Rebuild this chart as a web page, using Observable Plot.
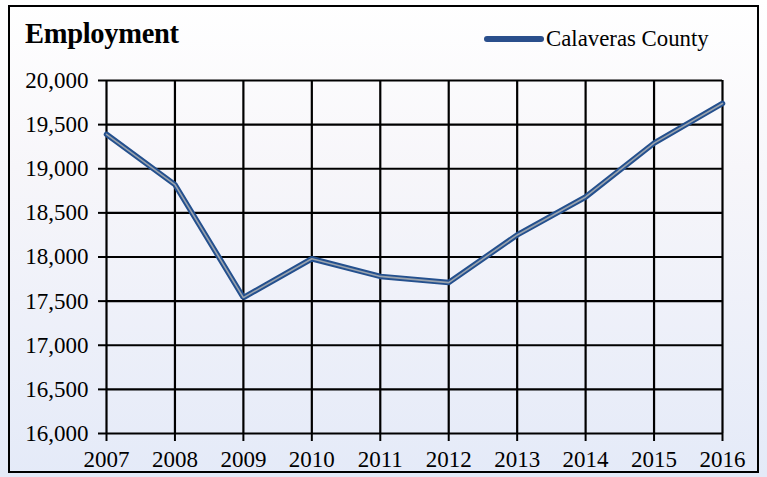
<!DOCTYPE html>
<html><head><meta charset="utf-8">
<script src="https://cdn.jsdelivr.net/npm/d3@7"></script>
<script src="https://cdn.jsdelivr.net/npm/@observablehq/plot@0.6"></script>
<style>
body{margin:0;background:#fff;}
#wrap{position:relative;width:767px;height:477px;overflow:hidden;font-family:"Liberation Serif","Times New Roman",serif;}
#frame{position:absolute;left:8px;top:5px;width:747px;height:464px;border:2px solid #000;pointer-events:none;}
#title{position:absolute;left:25px;top:18px;font-size:28.5px;font-weight:bold;color:#000;letter-spacing:-0.3px;}
#legend{position:absolute;left:484px;top:26px;font-size:22.8px;color:#000;display:flex;align-items:center;}
#legend span.sw{display:inline-block;width:60px;height:6px;border-radius:3px;background:#2a4f8c;margin-right:2px;}
svg{display:block;}
</style></head>
<body>
<div id="wrap">
<div id="chart"></div>
<div id="title">Employment</div>
<div id="legend"><span class="sw"></span>Calaveras County</div>
<div id="frame"></div>
</div>
<script>
const years = [2007, 2008, 2009, 2010, 2011, 2012, 2013, 2014, 2015, 2016];
const employment = [19390, 18820, 17540, 17980, 17780, 17710, 18250, 18680, 19290, 19740];
const yTicks = [16000, 16500, 17000, 17500, 18000, 18500, 19000, 19500, 20000];
const seriesName = "Calaveras County";

const data = years.map((y, i) => ({year: y, value: employment[i], series: seriesName}));
const serif = "Liberation Serif";
const fmt = d3.format(",");

const chart = Plot.plot({
  width: 767,
  height: 477,
  marginLeft: 106,
  marginRight: 45,
  marginTop: 80,
  marginBottom: 44,
  style: "background: linear-gradient(180deg, #ffffff 0%, #f7f6fa 35%, #e4eaf8 100%); font-family: 'Liberation Serif', serif; font-size: 23px; color: #000;",
  x: {domain: [2007, 2016]},
  y: {domain: [16000, 20000]},
  marks: [
    Plot.gridX(years, {stroke: "#000", strokeOpacity: 1, strokeWidth: 2.2}),
    Plot.gridY(yTicks, {stroke: "#000", strokeOpacity: 1, strokeWidth: 2.2}),
    Plot.axisX({ticks: years, tickSize: 8, tickPadding: 9, tickFormat: d => String(d), strokeWidth: 2, fontSize: 23, fontFamily: serif, fill: "#000", label: null}),
    Plot.axisY({ticks: yTicks, tickSize: 8, tickPadding: 10, tickFormat: fmt, strokeWidth: 2, fontSize: 23, fontFamily: serif, fill: "#000", label: null}),
    Plot.line(data, {x: "year", y: "value", stroke: "#24508e", strokeWidth: 5.5, strokeLinejoin: "miter"}),
    Plot.line(data, {x: "year", y: "value", stroke: "#9aa3ad", strokeWidth: 1.6, strokeLinejoin: "miter"})
  ]
});
document.getElementById("chart").appendChild(chart);
</script>
</body></html>
